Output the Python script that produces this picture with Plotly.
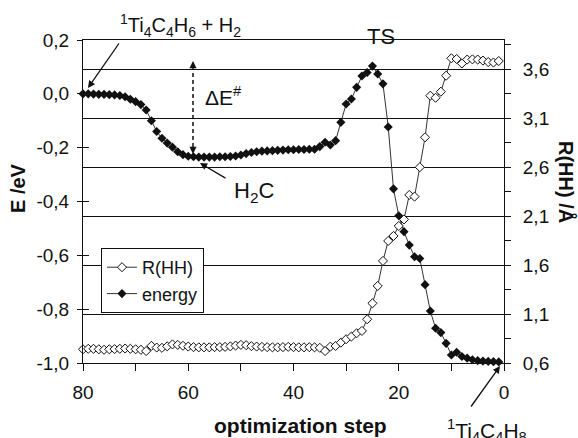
import plotly.graph_objects as go

# ---------------- data ----------------
steps = list(range(80, 0, -1))

energy = [
    0.000, 0.000, -0.001, -0.002, -0.002, -0.003, -0.004, -0.006, -0.011, -0.020,   # 80-71
    -0.029, -0.040, -0.060, -0.100, -0.140, -0.165, -0.183, -0.198, -0.215, -0.226,  # 70-61
    -0.232, -0.234, -0.235, -0.235, -0.235, -0.235, -0.234, -0.234, -0.233, -0.231,  # 60-51
    -0.227, -0.222, -0.218, -0.215, -0.213, -0.212, -0.211, -0.210, -0.209, -0.208,  # 50-41
    -0.208, -0.207, -0.207, -0.206, -0.206, -0.196, -0.180, -0.190, -0.174, -0.106,  # 40-31
    -0.038, -0.019, 0.024, 0.066, 0.079, 0.103, 0.074, 0.037, -0.123, -0.353,        # 30-21
    -0.453, -0.512, -0.562, -0.605, -0.612, -0.709, -0.807, -0.871, -0.887, -0.927,  # 20-11
    -0.970, -0.960, -0.976, -0.982, -0.988, -0.991, -0.993, -0.994, -0.995, -0.996,  # 10-1
]

r_hh = [
    0.740, 0.745, 0.745, 0.740, 0.735, 0.740, 0.742, 0.745, 0.748, 0.745,  # 80-71
    0.740, 0.735, 0.722, 0.775, 0.758, 0.755, 0.770, 0.790, 0.785, 0.776,  # 70-61
    0.768, 0.762, 0.760, 0.760, 0.760, 0.762, 0.762, 0.765, 0.770, 0.778,  # 60-51
    0.785, 0.782, 0.772, 0.768, 0.765, 0.762, 0.760, 0.760, 0.762, 0.765,  # 50-41
    0.762, 0.760, 0.760, 0.762, 0.760, 0.755, 0.722, 0.767, 0.774, 0.808,  # 40-31
    0.843, 0.870, 0.904, 0.928, 1.047, 1.210, 1.387, 1.643, 1.847, 1.898,  # 30-21
    2.000, 2.067, 2.317, 2.300, 2.600, 2.906, 3.331, 3.310, 3.372, 3.535,  # 20-11
    3.713, 3.706, 3.660, 3.700, 3.702, 3.700, 3.690, 3.675, 3.670, 3.685,  # 10-1
]

x_tick_vals = [80, 60, 40, 20, 0]
x_tick_text = ["80", "60", "40", "20", "0"]
x_minor_vals = [70, 50, 30, 10]
e_tick_vals = [0.2, 0.0, -0.2, -0.4, -0.6, -0.8, -1.0]
e_tick_text = ["0,2", "0,0", "-0,2", "-0,4", "-0,6", "-0,8", "-1,0"]
r_tick_vals = [0.6, 1.1, 1.6, 2.1, 2.6, 3.1, 3.6]
r_tick_text = ["0,6", "1,1", "1,6", "2,1", "2,6", "3,1", "3,6"]
r_minor_vals = [0.85, 1.35, 1.85, 2.35, 2.85, 3.35, 3.85]

# ---------------- layout helpers ----------------
W, H = 578, 438
L, R, T, B = 83, 74, 40, 75
FONT = "Liberation Sans, Arial, sans-serif"
INK = "#111111"


def px(x):
    return (x - L) / (W - L - R)


def py(y):
    return (H - B - y) / (H - T - B)


fig = go.Figure()

fig.add_trace(go.Scatter(
    x=steps, y=r_hh, name="R(HH)", yaxis="y2", mode="lines+markers",
    line=dict(color="#333333", width=1),
    marker=dict(symbol="diamond", size=7, color="white", line=dict(color=INK, width=1)),
    cliponaxis=False, legendgroup="a",
))
fig.add_trace(go.Scatter(
    x=steps, y=energy, name="energy", yaxis="y", mode="lines+markers",
    line=dict(color="#333333", width=1),
    marker=dict(symbol="diamond", size=7, color=INK),
    cliponaxis=False, legendgroup="b",
))

annotations = []


def text(s, x, y, size, angle=0, bold=False):
    if bold:
        s = "<b>" + s + "</b>"
    annotations.append(dict(
        text=s, x=px(x), y=py(y), xref="paper", yref="paper", showarrow=False,
        xanchor="center", yanchor="middle", textangle=angle,
        font=dict(family=FONT, size=size, color=INK),
    ))


def arrow(tail, head, width=1.3):
    annotations.append(dict(
        text="", x=px(head[0]), y=py(head[1]), xref="paper", yref="paper",
        ax=tail[0] - head[0], ay=tail[1] - head[1], axref="pixel", ayref="pixel",
        showarrow=True, arrowhead=2, arrowsize=1.1, arrowwidth=width, arrowcolor=INK,
    ))


text("<sup>1</sup>Ti<sub>4</sub>C<sub>4</sub>H<sub>6</sub> + H<sub>2</sub>", 180, 26, 20)
text("TS", 381, 36, 22)
text("ΔE<sup>#</sup>", 223, 96, 21)
text("H<sub>2</sub>C", 254, 192, 22)
text("<sup>1</sup>Ti<sub>4</sub>C<sub>4</sub>H<sub>8</sub>", 487, 430, 21)
text("optimization step", 300, 425, 21, bold=True)
text("E /eV", 18, 188, 20, angle=-90, bold=True)
text("R(HH) /Å", 567, 182, 20, angle=90, bold=True)

arrow((120, 42), (88, 88))
arrow((227, 179), (200, 163))
arrow((470, 408), (500, 366))
arrow((193, 69), (193, 61))
arrow((193, 146), (193, 154))

shapes = [dict(type="line", xref="paper", yref="paper",
               x0=px(193), x1=px(193), y0=py(66), y1=py(150),
               line=dict(color=INK, width=1.5, dash="4px,3px"))]

axis_common = dict(showline=True, linecolor=INK, linewidth=1, zeroline=False,
                   tickcolor=INK, tickfont=dict(family=FONT, size=19, color=INK))

fig.update_layout(
    width=W, height=H,
    margin=dict(l=L, r=R, t=T, b=B),
    paper_bgcolor="white", plot_bgcolor="white",
    font=dict(family=FONT, size=18, color=INK),
    showlegend=True,
    legend=dict(x=px(101), y=py(248), xanchor="left", yanchor="top",
                bgcolor="white", bordercolor=INK, borderwidth=1,
                font=dict(family=FONT, size=18, color=INK),
                itemwidth=30, tracegroupgap=0, traceorder="grouped"),
    xaxis=dict(range=[80, 0], tickmode="array", tickvals=x_tick_vals, ticktext=x_tick_text,
               ticks="outside", ticklen=7, mirror=True, showgrid=False,
               ticklabelstandoff=5,
               minor=dict(tickmode="array", tickvals=x_minor_vals, ticks="outside",
                          ticklen=7, tickcolor=INK, showgrid=False),
               **axis_common),
    yaxis=dict(range=[-1.0, 0.2], tickmode="array", tickvals=e_tick_vals, ticktext=e_tick_text,
               ticks="outside", ticklen=5, showgrid=False, ticklabelstandoff=4,
               **axis_common),
    yaxis3=dict(range=[-1.0, 0.2], overlaying="y", side="left", tickmode="array",
                tickvals=e_tick_vals, ticks="inside", ticklen=6, showticklabels=False,
                showgrid=False, zeroline=False, showline=False, tickcolor=INK),
    yaxis2=dict(range=[0.6, 3.9], overlaying="y", side="right", tickmode="array",
                tickvals=r_tick_vals, ticktext=r_tick_text, ticks="outside", ticklen=6,
                showgrid=True, gridcolor=INK, gridwidth=1, ticklabelstandoff=8,
                minor=dict(tickmode="array", tickvals=r_minor_vals, ticks="outside",
                           ticklen=6, tickcolor=INK, showgrid=False),
                **axis_common),
    annotations=annotations,
    shapes=shapes,
)

# dummy invisible trace to activate yaxis3 ticks
fig.add_trace(go.Scatter(x=[None], y=[None], yaxis="y3", showlegend=False, hoverinfo="skip"))

fig.write_html("out.html", config={"displayModeBar": False},
               post_script="document.body.style.margin='0';document.body.style.overflow='hidden';")
